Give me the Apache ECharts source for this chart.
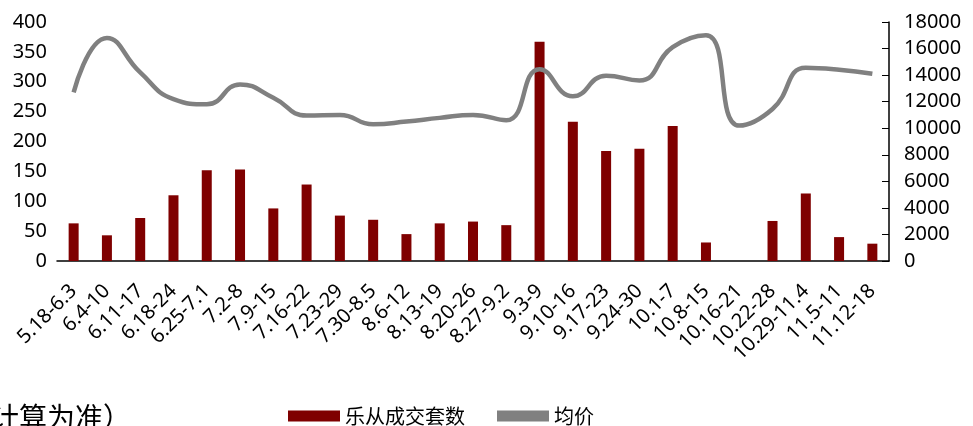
<!DOCTYPE html>
<html>
<head>
<meta charset="utf-8">
<script src="https://cdn.jsdelivr.net/npm/echarts@6/dist/echarts.min.js"></script>
<style>
    html, body { margin: 0; padding: 0; background: #fff; }
    #chart { width: 973px; height: 426px; }
</style>
</head>
<body>
<div id="chart"></div>
<script>
const weeks = ['5.18-6.3', '6.4-10', '6.11-17', '6.18-24', '6.25-7.1', '7.2-8', '7.9-15', '7.16-22',
    '7.23-29', '7.30-8.5', '8.6-12', '8.13-19', '8.20-26', '8.27-9.2', '9.3-9', '9.10-16',
    '9.17-23', '9.24-30', '10.1-7', '10.8-15', '10.16-21', '10.22-28', '10.29-11.4', '11.5-11', '11.12-18'];
const deals = [63, 43, 72, 110, 152, 153, 88, 128, 76, 69, 45, 63, 66, 60, 367, 233,
    184, 188, 226, 31, 0, 67, 113, 40, 29];
const avgPrice = [12700, 16800, 14200, 12200, 11800, 13300, 12300, 10950, 11000, 10300, 10500, 10780,
    11000, 10600, 14450, 12400, 13950, 13600, 16100, 17000, 10200, 11450, 14550, 14400, 14100];
const leftTicks = [0, 400, 50];
const rightTicks = [0, 18000, 2000];

const font = '"Noto Sans", "Noto Sans CJK SC"';
const cjk = 'Noto Sans CJK SC';
const chart = echarts.init(document.getElementById('chart'));
chart.setOption({
    animation: false,
    textStyle: { fontFamily: font },
    grid: { left: 57, right: 84, top: 22, bottom: 165 },
    legend: {
        top: 401,
        left: 283,
        itemWidth: 52,
        itemHeight: 11,
        itemGap: 32,
        textStyle: { fontSize: 20, color: '#000', fontFamily: cjk },
        data: [
            { name: '乐从成交套数', icon: 'rect' },
            { name: '均价', icon: 'rect', itemStyle: { color: '#808080' } }
        ]
    },
    graphic: [{
        type: 'text',
        left: -9,
        top: 403,
        style: { text: '计算为准）', fontSize: 28, fill: '#000', fontFamily: cjk }
    }],
    xAxis: {
        type: 'category',
        data: weeks,
        axisLine: { lineStyle: { color: '#000', width: 1.5 } },
        axisTick: { show: false },
        axisLabel: {
            rotate: 45,
            interval: 0,
            margin: 27,
            fontSize: 20,
            color: '#000'
        }
    },
    yAxis: [
        {
            type: 'value',
            min: leftTicks[0],
            max: leftTicks[1],
            interval: leftTicks[2],
            splitLine: { show: false },
            axisLine: { show: false },
            axisTick: { show: false },
            axisLabel: { fontSize: 20, color: '#000', margin: 10 }
        },
        {
            type: 'value',
            position: 'right',
            min: rightTicks[0],
            max: rightTicks[1],
            interval: rightTicks[2],
            splitLine: { show: false },
            axisLine: { show: true, lineStyle: { color: '#000', width: 1.5 } },
            axisTick: { show: true, inside: true, length: 7, lineStyle: { color: '#000' } },
            axisLabel: { fontSize: 20, color: '#000', margin: 15, formatter: v => String(v) }
        }
    ],
    series: [
        {
            name: '乐从成交套数',
            type: 'bar',
            data: deals,
            barWidth: 10,
            itemStyle: { color: '#7F0000' }
        },
        {
            name: '均价',
            type: 'line',
            yAxisIndex: 1,
            data: avgPrice,
            smooth: 0.5,
            showSymbol: false,
            symbol: 'none',
            itemStyle: { color: '#808080' },
            lineStyle: { color: '#808080', width: 4.5 }
        }
    ]
});
</script>
</body>
</html>
